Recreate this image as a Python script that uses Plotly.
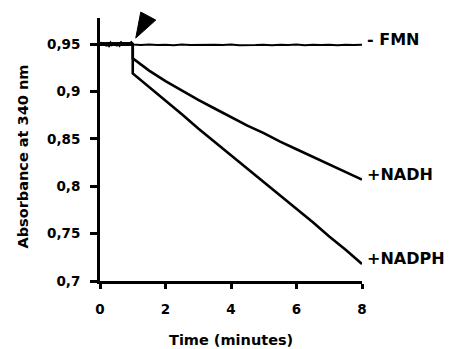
import plotly.graph_objects as go

# ---- data ----
injection_time = 1.0

pre_time = [0.00, 0.04, 0.08, 0.12, 0.16, 0.20, 0.24, 0.28, 0.32, 0.36, 0.40, 0.44, 0.48,
            0.52, 0.56, 0.60, 0.64, 0.68, 0.72, 0.76, 0.80, 0.84, 0.88, 0.92, 0.96, 1.00]
pre_abs = [0.9518, 0.9485, 0.9515, 0.9487, 0.9511, 0.9482, 0.9517, 0.9489, 0.9509, 0.9484,
           0.9514, 0.9488, 0.9512, 0.9483, 0.9516, 0.9490, 0.9510, 0.9486, 0.9515, 0.9487,
           0.9513, 0.9485, 0.9517, 0.9489, 0.9513, 0.9500]

fmn_time = [1.00, 1.25, 1.50, 1.75, 2.00, 2.25, 2.50, 2.75, 3.00, 3.25, 3.50, 3.75, 4.00,
            4.25, 4.50, 4.75, 5.00, 5.25, 5.50, 5.75, 6.00, 6.25, 6.50, 6.75, 7.00, 7.25,
            7.50, 7.75, 8.00]
fmn_abs = [0.9495, 0.9490, 0.9496, 0.9489, 0.9494, 0.9488, 0.9495, 0.9490, 0.9493, 0.9488,
           0.9494, 0.9489, 0.9495, 0.9488, 0.9493, 0.9490, 0.9494, 0.9487, 0.9493, 0.9489,
           0.9495, 0.9488, 0.9494, 0.9489, 0.9493, 0.9488, 0.9494, 0.9489, 0.9492]

post_time = [1.0, 1.5, 2.0, 2.5, 3.0, 3.5, 4.0, 4.5, 5.0, 5.5, 6.0, 6.5, 7.0, 7.5, 8.0]
nadh_abs = [0.935, 0.922, 0.911, 0.901, 0.891, 0.882, 0.873, 0.864, 0.856, 0.847,
            0.839, 0.831, 0.823, 0.815, 0.807]
nadph_abs = [0.919, 0.905, 0.890, 0.876, 0.861, 0.847, 0.833, 0.818, 0.804, 0.790,
             0.776, 0.762, 0.747, 0.733, 0.718]

series_labels = ["- FMN", "+NADH", "+NADPH"]

x_ticks = [0, 2, 4, 6, 8]
x_ticktext = ["0", "2", "4", "6", "8"]
y_ticks = [0.70, 0.75, 0.80, 0.85, 0.90, 0.95]
y_ticktext = ["0,7", "0,75", "0,8", "0,85", "0,9", "0,95"]

x_range = [0, 8]
y_range = [0.70, 0.9775]

# ---- figure ----
FONT = "DejaVu Sans"
fig = go.Figure()

series = [
    (pre_time + fmn_time, pre_abs + fmn_abs, 2.0),
    (pre_time + post_time, pre_abs + nadh_abs, 2.6),
    (pre_time + post_time, pre_abs + nadph_abs, 2.6),
]
for (xs, ys, w), name in zip(series, series_labels):
    fig.add_trace(go.Scatter(x=xs, y=ys, mode="lines", name=name,
                             line=dict(color="black", width=w), showlegend=False))
    fig.add_annotation(x=xs[-1], y=ys[-1], xref="x", yref="y", text=name,
                       showarrow=False, xanchor="left", yanchor="middle",
                       xshift=3, yshift=5,
                       font=dict(family=FONT, size=16, color="black", weight="bold"))

# arrowhead marking the injection point (pixel path anchored at injection time)
fig.add_shape(type="path", xref="x domain", yref="y domain",
              xsizemode="pixel", ysizemode="pixel",
              xanchor=(injection_time - x_range[0]) / (x_range[1] - x_range[0]),
              yanchor=(pre_abs[-1] - y_range[0]) / (y_range[1] - y_range[0]),
              path="M 3,6 L 8,32 L 23,24 Z",
              fillcolor="black", line=dict(color="black", width=1))

# axis titles
fig.add_annotation(text="Absorbance at 340 nm", xref="paper", yref="paper",
                   x=0, y=0.5, xanchor="center", yanchor="middle",
                   xshift=-78, yshift=-7, textangle=-90, showarrow=False,
                   font=dict(family=FONT, size=14.5, color="black", weight="bold"))
fig.add_annotation(text="Time (minutes)", xref="paper", yref="paper",
                   x=0.5, y=0, xanchor="center", yanchor="middle",
                   yshift=-59, showarrow=False,
                   font=dict(family=FONT, size=14.5, color="black", weight="bold"))

axis_common = dict(showgrid=False, zeroline=False, showline=True, linecolor="black",
                   linewidth=3, ticks="outside", tickcolor="black", tickwidth=2.5,
                   tickfont=dict(family=FONT, size=13.5, color="black", weight="bold"))

fig.update_xaxes(range=x_range, tickvals=x_ticks, ticktext=x_ticktext,
                 ticklen=5, ticklabelstandoff=9, **axis_common)
fig.update_yaxes(range=y_range, tickvals=y_ticks, ticktext=y_ticktext,
                 ticklen=7, ticklabelstandoff=7, **axis_common)

fig.update_layout(width=449, height=349,
                  margin=dict(l=100, r=87, t=18, b=68),
                  paper_bgcolor="white", plot_bgcolor="white")

fig.write_html("out.html", config={"displayModeBar": False},
               post_script="document.body.style.margin='0';document.body.style.overflow='hidden';")
